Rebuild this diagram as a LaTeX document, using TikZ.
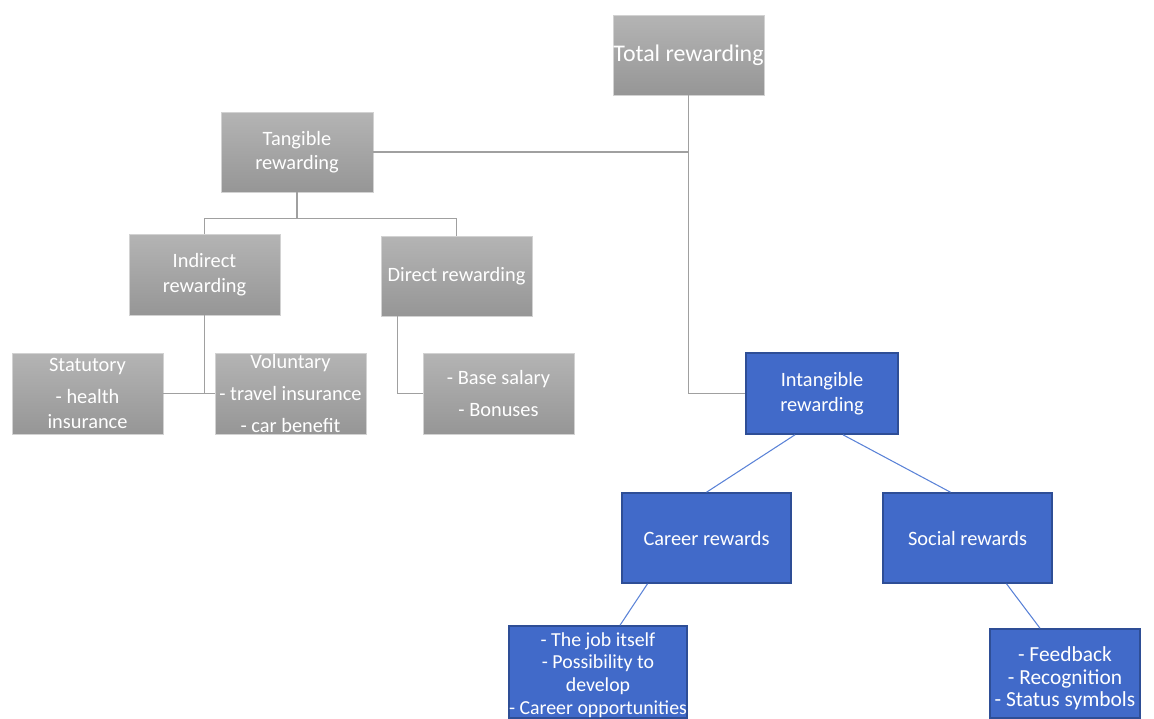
\documentclass[tikz,border=0pt]{standalone}
\usepackage{fontspec}
\setmainfont{Carlito}
\usetikzlibrary{positioning,calc}
\definecolor{grayT}{RGB}{180,180,180}
\definecolor{grayB}{RGB}{150,150,150}
\definecolor{grayL}{RGB}{160,160,160}
\definecolor{blueF}{RGB}{65,106,201}
\definecolor{blueD}{RGB}{46,78,150}
\definecolor{blueL}{RGB}{90,130,215}
\begin{document}
\begin{tikzpicture}[x=0.02cm,y=-0.02cm]
\tikzset{gbox/.style={top color=grayT,bottom color=grayB,draw=gray!35,text=white,align=center,
           inner sep=0pt,font=\fontsize{11.6}{14}\selectfont},
         bbox/.style={fill=blueF,draw=blueD,line width=0.9pt,text=white,align=center,
           inner sep=0pt,font=\fontsize{11.6}{14}\selectfont},
         gline/.style={draw=grayL,line width=0.6pt},
         bline/.style={draw=blueL,line width=0.6pt}}
   \useasboundingbox (0,0) rectangle (1154,718);

   \node[gbox,minimum width=3.02cm,minimum height=1.6cm,font=\fontsize{13.6}{16}\selectfont] at (688.5,55) (tot) {Total rewarding};
   \node[gbox,minimum width=3.04cm,minimum height=1.6cm] at (297,152) (tan) {Tangible\\rewarding};
   \node[gbox,minimum width=3.02cm,minimum height=1.62cm] at (204.5,274.5) (ind) {Indirect\\rewarding};
   \node[gbox,minimum width=3.02cm,minimum height=1.6cm] at (456.5,276) (dir) {Direct rewarding};
   \node[gbox,minimum width=3.02cm,minimum height=1.62cm] at (87.5,393.5) (stat) {Statutory\\[4pt]- health\\insurance};
   \node[gbox,minimum width=3.02cm,minimum height=1.62cm] at (290.5,393.5) (vol) {Voluntary\\[4pt]- travel insurance\\[4pt]- car benefit};
   \node[gbox,minimum width=3.02cm,minimum height=1.62cm] at (498.5,393.5) (base) {- Base salary\\[4pt]- Bonuses};

   \node[bbox,minimum width=3.04cm,minimum height=1.62cm] at (822,393.5) (intan) {Intangible\\rewarding};
   \node[bbox,minimum width=3.38cm,minimum height=1.8cm] at (706.5,538) (car) {Career rewards};
   \node[bbox,minimum width=3.38cm,minimum height=1.8cm] at (967.5,538) (soc) {Social rewards};
   \node[bbox,minimum width=3.52cm,minimum height=1.84cm,font=\fontsize{11.3}{13}\selectfont] at (598,672) (job) {\rule{0pt}{11.3pt}- The job itself\\- Possibility to\\develop\\- Career opportunities};
   \node[bbox,minimum width=3cm,minimum height=1.78cm,font=\fontsize{12.2}{13}\selectfont] at (1065,673.5) (feed) {\rule{0pt}{14pt}- Feedback\\- Recognition\\- Status symbols};

   % tangible side
   \draw[gline] (tot.south) -- (tot.south |- intan.west) -- (intan.west);
   \draw[gline] (tan.east) -- (tan.east -| tot.south);
   \draw[gline] (tan.south) -- ++(0,26) -| (ind.north);
   \draw[gline] (tan.south) ++(0,26) -| (dir.north);
   \draw[gline] (ind.south) -- (ind.south |- stat.east);
   \draw[gline] (stat.east) -- (vol.west);
   \draw[gline] ($(dir.south)+(-59,0)$) |- (base.west);

   % intangible side
   \draw[bline] ($(intan.south)+(-27,0)$) -- (car.north);
   \draw[bline] ($(intan.south)+(21,0)$) -- ($(soc.north)+(-17,0)$);
   \draw[bline] ($(car.south)+(-59,0)$) -- ($(job.north)+(22,0)$);
   \draw[bline] ($(soc.south)+(39,0)$) -- ($(feed.north)+(-25,0)$);
 \end{tikzpicture}
\end{document}
